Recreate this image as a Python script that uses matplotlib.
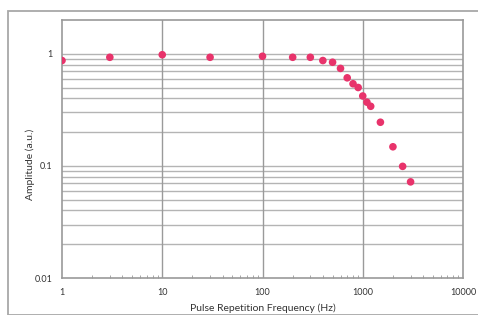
import matplotlib.pyplot as plt
from matplotlib.patches import Rectangle
from matplotlib.ticker import LogLocator, FixedLocator, NullFormatter

plt.rcParams['font.family'] = ['Lato', 'DejaVu Sans']

freq = [1, 3, 10, 30, 100, 200, 300, 400, 500, 600, 700, 800, 900,
        1000, 1100, 1200, 1500, 2000, 2500, 3000]
amp = [0.87, 0.93, 0.98, 0.93, 0.95, 0.93, 0.93, 0.87, 0.84, 0.74,
       0.61, 0.54, 0.50, 0.42, 0.37, 0.34, 0.245, 0.148, 0.099, 0.072]

x_ticks = [1, 10, 100, 1000, 10000]
x_labels = ['1', '10', '100', '1000', '10000']
y_ticks = [0.01, 0.1, 1]
y_labels = ['0.01', '0.1', '1']

W, H = 478, 315
fig = plt.figure(figsize=(W / 100, H / 100), dpi=100)

# outer chart frame
fig.patches.append(Rectangle((8 / W, 0), 1.2, 1 - 11 / H, transform=fig.transFigure,
                             fill=False, edgecolor='#a8a8a8', linewidth=1.3))

ax = fig.add_axes([62 / W, 1 - 278 / H, 401 / W, 258 / H])
ax.set_xscale('log')
ax.set_yscale('log')
ax.set_xlim(1, 10000)
ax.set_ylim(0.01, 2)

grid_y = [m * 10.0 ** e for e in (-2, -1) for m in range(2, 10)] + [0.1, 1]
for gy in grid_y:
    ax.axhline(gy, color='#b4b4b4', linewidth=1.0, zorder=1)
for gx in [10, 100, 1000]:
    ax.axvline(gx, color='#9a9a9a', linewidth=1.0, zorder=1)

ax.scatter(freq, amp, s=30, color='#e8336b', edgecolors='none', zorder=3)

ax.xaxis.set_major_locator(FixedLocator(x_ticks))
ax.set_xticklabels(x_labels)
ax.xaxis.set_minor_locator(LogLocator(base=10, subs=range(2, 10)))
ax.xaxis.set_minor_formatter(NullFormatter())
ax.yaxis.set_major_locator(FixedLocator(y_ticks))
ax.set_yticklabels(y_labels)
ax.yaxis.set_minor_locator(FixedLocator([]))

ax.tick_params(axis='x', which='major', length=0, labelsize=6.5, pad=7, colors='#333333')
ax.tick_params(axis='x', which='minor', direction='in', length=2.5, color='#999999')
ax.tick_params(axis='y', which='major', length=0, labelsize=6.5, pad=7, colors='#333333')

for s in ax.spines.values():
    s.set_color('#999999')
    s.set_linewidth(1.2)

ax.set_xlabel('Pulse Repetition Frequency (Hz)', fontsize=7.5, color='#333333', labelpad=5)
ax.set_ylabel('Amplitude (a.u.)', fontsize=7.5, color='#333333')
ax.yaxis.set_label_coords(-0.067, 0.44)

fig.savefig('out.png', dpi=100)
